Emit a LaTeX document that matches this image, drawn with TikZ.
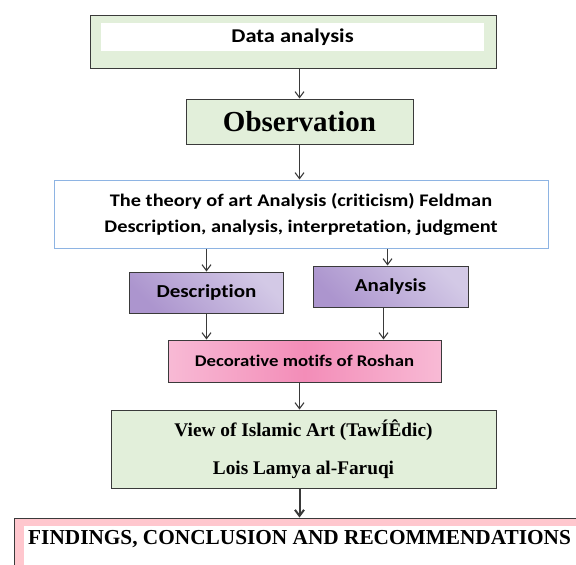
\documentclass[tikz,border=0pt]{standalone}
\usepackage{fontspec}
\setmainfont{Liberation Serif}
\newfontfamily\calib[FakeStretch=1.15,Ligatures=NoCommon]{Carlito}
\usetikzlibrary{arrows.meta}
\definecolor{boxgreen}{HTML}{E2EFDA}
\definecolor{boxblue}{HTML}{8EB4E3}
\definecolor{purpdark}{HTML}{AC95CE}
\definecolor{purplight}{HTML}{D3C9E6}
\definecolor{pinkmid}{HTML}{F38DB8}
\definecolor{pinklight}{HTML}{F8BAD5}
\definecolor{boxpink}{HTML}{FFC7CE}
\definecolor{edge}{HTML}{3A3A3A}
\tikzset{
  greenbox/.style={draw=edge,line width=1pt,fill=boxgreen,inner sep=0pt},
  purpbox/.style={draw=edge,line width=1pt,inner sep=0pt,top color=purplight,bottom color=purpdark,shading angle=-45,minimum width=154,minimum height=41,font=\calib\bfseries\fontsize{18.3}{20}\selectfont},
  flow/.style={draw=edge,line width=1.1pt,-{Straight Barb[length=6pt,width=9pt]}},
}
\begin{document}
\begin{tikzpicture}[x=1pt,y=-1pt]
      \useasboundingbox (0,0) rectangle (576,565);
      \clip (0,0) rectangle (576,565);
      % data analysis
      \node[greenbox,minimum width=406,minimum height=53] (data) at (293,41.5) {};
      \node[fill=white,inner sep=0pt,minimum width=383,minimum height=28,font=\calib\bfseries\fontsize{19.5}{20}\selectfont] (datatxt) at (292.5,37) {Data analysis};
      % observation
      \node[greenbox,minimum width=227,minimum height=45,font=\bfseries\fontsize{29}{30}\selectfont] (obs) at (299.5,121.5) {Observation};
      % Feldman
      \node[draw=boxblue,line width=1pt,fill=white,inner sep=0pt,minimum width=494,minimum height=68,align=center,font=\calib\bfseries\fontsize{17.7}{26}\selectfont] (theory) at (301,214)
        {The theory of art Analysis (criticism) Feldman\\Description, analysis, interpretation, judgment};
      \node[purpbox] (desc) at (206.5,292.5) {Description};
      \node[purpbox,minimum width=155] (anal) at (390.5,286.5) {Analysis};
      % motifs
      \node[draw=edge,line width=1pt,inner sep=0pt,left color=pinklight,right color=pinklight,middle color=pinkmid,minimum width=273,minimum height=42,font=\calib\bfseries\fontsize{16.3}{20}\selectfont] (deco) at (304.5,361) {Decorative motifs of Roshan};
      % al-Faruqi
      \node[greenbox,minimum width=385,minimum height=78,align=center,font=\bfseries\fontsize{19.3}{38}\selectfont] (view) at (303.5,449)
        {View of Islamic Art (TawÍÊdic)\\Lois Lamya al-Faruqi};
      % findings
      \node[draw=edge,line width=1pt,fill=boxpink,inner sep=0pt,minimum width=590,minimum height=90] (find) at (309,563) {};
      \node[fill=white,inner sep=0pt,minimum width=580,minimum height=80] (findin) at (314,566) {};
      \node[anchor=west,inner sep=0pt,font=\bfseries\fontsize{21.3}{24}\selectfont] (findtxt) at (28,539) {FINDINGS, CONCLUSION AND RECOMMENDATIONS};
      % arrows
      \draw[flow] (data.south -| obs.north) -- (obs.north);
      \draw[flow] (obs.south) -- (obs.south |- theory.north);
      \draw[flow] (theory.south -| desc.north) -- (desc.north);
      \draw[flow] ([xshift=-3pt]theory.south -| anal.north) -- ([xshift=-3pt]anal.north);
      \draw[flow] (desc.south) -- (desc.south |- deco.north);
      \draw[flow] ([xshift=-7pt]anal.south) -- ([xshift=-7pt]anal.south |- deco.north);
      \draw[flow] (deco.south -| obs.south) -- (obs.south |- view.north);
      \draw[flow,line width=2pt] (view.south -| obs.south) -- (obs.south |- find.north);
\end{tikzpicture}
\end{document}
